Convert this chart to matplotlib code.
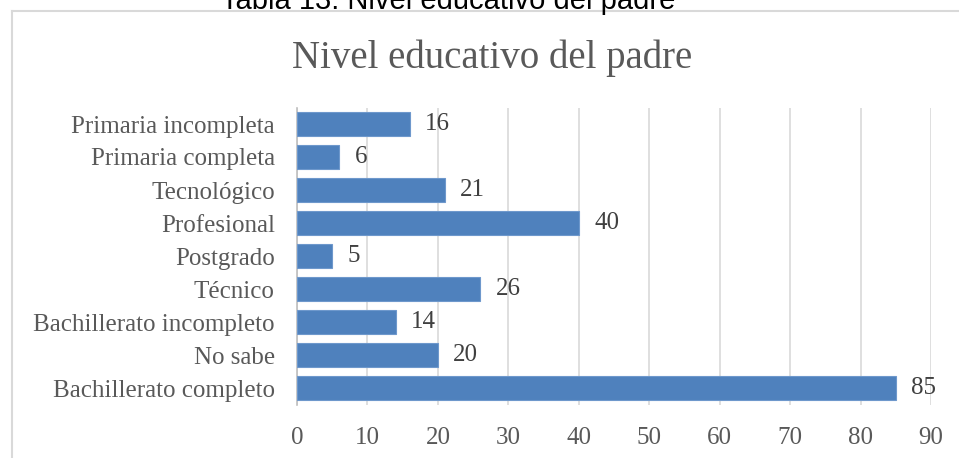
import matplotlib
matplotlib.use('Agg')
import matplotlib.pyplot as plt
from matplotlib.lines import Line2D

categories = ['Primaria incompleta', 'Primaria completa', 'Tecnológico', 'Profesional',
              'Postgrado', 'Técnico', 'Bachillerato incompleto', 'No sabe',
              'Bachillerato completo']
values = [16, 6, 21, 40, 5, 26, 14, 20, 85]
xticks = [0, 10, 20, 30, 40, 50, 60, 70, 80, 90]

serif = ['Liberation Serif', 'DejaVu Serif']
txt = '#595959'

fig = plt.figure(figsize=(9.59, 4.58), dpi=100, facecolor='white')
ax = fig.add_axes([297 / 959, 1 - 404.5 / 458, 634 / 959, 297 / 458])

ypos = list(range(len(categories)))
ax.barh(ypos, values, height=0.73, color='#4F81BD', edgecolor='#6E98CC', linewidth=0.8, zorder=3)
ax.set_ylim(len(categories) - 0.5, -0.5)
ax.set_xlim(0, 90)
ax.set_yticks(ypos)
ax.set_yticklabels(categories, family=serif, fontsize=18, color=txt)
ax.set_xticks(xticks)
ax.set_xticklabels([str(t) for t in xticks], family=serif, fontsize=18, color=txt)
ax.tick_params(axis='both', length=0)
ax.tick_params(axis='y', pad=16)
ax.tick_params(axis='x', pad=16)

ax.grid(axis='x', color='#D9D9D9', linewidth=1.2, zorder=0)
for s in ['top', 'right', 'bottom']:
    ax.spines[s].set_visible(False)
ax.spines['left'].set_color('#BFBFBF')
ax.spines['left'].set_linewidth(1.2)

for y, v in zip(ypos, values):
    ax.annotate(str(v), (v, y), xytext=(11, 0), textcoords='offset points',
                va='center', ha='left', family=serif, fontsize=18, color='#404040')

fig.text(492 / 959, 1 - 58 / 458, 'Nivel educativo del padre', ha='center', va='center',
         family=serif, fontsize=28, color=txt)
fig.text(448 / 959, 1 - 9 / 458, 'Tabla 13. Nivel educativo del padre', ha='center',
         va='baseline', family=['Liberation Sans', 'DejaVu Sans'], fontsize=21, color='black')

# chart frame (cropped on right and bottom)
fig.add_artist(Line2D([12 / 959, 12 / 959], [0, 1 - 11 / 458], color='#D9D9D9', lw=1.5))
fig.add_artist(Line2D([12 / 959, 1], [1 - 11 / 458, 1 - 11 / 458], color='#D9D9D9', lw=1.5))

fig.savefig('out.png', dpi=100, facecolor='white')
